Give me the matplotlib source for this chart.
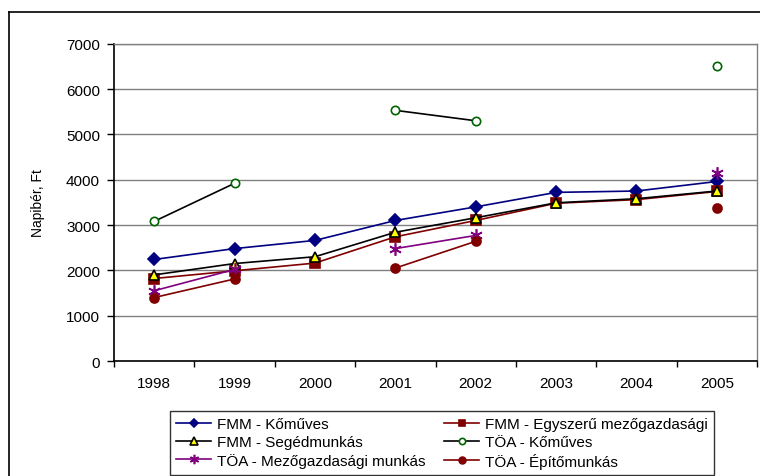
import matplotlib.pyplot as plt
import numpy as np
from matplotlib.lines import Line2D

plt.rcParams['font.family'] = ['Liberation Sans', 'DejaVu Sans']

years = ["1998", "1999", "2000", "2001", "2002", "2003", "2004", "2005"]
nan = np.nan

fmm_komuves = [2240, 2480, 2660, 3100, 3400, 3720, 3750, 3960]
fmm_egyszeru = [1820, 1990, 2160, 2740, 3100, 3480, 3560, 3740]
fmm_segedmunkas = [1900, 2150, 2300, 2840, 3160, 3490, 3580, 3750]
toa_komuves = [3080, 3920, nan, 5530, 5300, nan, nan, 6510]
toa_mezogazd = [1550, 2020, nan, 2480, 2770, nan, nan, 4140]
toa_epito = [1400, 1810, nan, 2050, 2640, nan, nan, 3380]

W, H = 760, 477
fig = plt.figure(figsize=(W / 100, H / 100), dpi=100)
ax = fig.add_axes([114 / W, 1 - 362 / H, (757 - 114) / W, (362 - 44.7) / H])

x = np.arange(len(years))

# series: values, label, line colour, marker, face, edge, size
series = [
    (fmm_komuves, "FMM - Kőműves", "#000080", "D", "#000080", "#000080", 6),
    (fmm_egyszeru, "FMM - Egyszerű mezőgazdasági", "#800000", "s", "#800000", "#800000", 6.5),
    (fmm_segedmunkas, "FMM - Segédmunkás", "#000000", "^", "#ffff00", "#000000", 7.5),
    (toa_komuves, "TÖA - Kőműves", "#000000", "o", "white", "#006400", 6),
    (toa_mezogazd, "TÖA - Mezőgazdasági munkás", "#800080", (6, 2, 0), "#800080", "#800080", 9),
    (toa_epito, "TÖA - Építőmunkás", "#800000", "o", "#800000", "#800000", 6.5),
]

handles = {}
for vals, label, col, mk, fc, ec, ms in series:
    (h,) = ax.plot(x, vals, color=col, lw=1.2, marker=mk, markersize=ms,
                   markerfacecolor=fc, markeredgecolor=ec, markeredgewidth=1.2,
                   label=label, zorder=3)
    handles[label] = h

ax.set_xlim(-0.5, len(years) - 0.5)
ax.set_ylim(0, 7000)
ax.set_yticks(np.arange(0, 7001, 1000))
ax.yaxis.grid(True, color="#808080", lw=1)
ax.set_axisbelow(True)

ax.set_xticks(np.arange(-0.5, len(years), 1))
ax.set_xticklabels([])
ax.set_xticks(x, minor=True)
ax.set_xticklabels(years, minor=True)
ax.tick_params(axis="x", which="major", direction="out", length=4, width=1)
ax.tick_params(axis="x", which="minor", length=0, pad=11, labelsize=11)
ax.tick_params(axis="y", direction="out", length=5, width=1, pad=5, labelsize=11)

for s in ["left", "bottom"]:
    ax.spines[s].set_color("#000000")
    ax.spines[s].set_linewidth(1.2)
for s in ["right", "top"]:
    ax.spines[s].set_color("#808080")
    ax.spines[s].set_linewidth(1)

ax.set_ylabel("Napibér, Ft", fontsize=10, labelpad=15)

order = ["FMM - Kőműves", "FMM - Segédmunkás", "TÖA - Mezőgazdasági munkás",
         "FMM - Egyszerű mezőgazdasági", "TÖA - Kőműves", "TÖA - Építőmunkás"]
leg = fig.legend([handles[k] for k in order], order, ncol=2, fontsize=11,
                 loc="upper left", bbox_to_anchor=(170 / W, 1 - 412 / H),
                 frameon=True, fancybox=False, edgecolor="#000000",
                 handlelength=2.3, handletextpad=0.4, columnspacing=1.2,
                 labelspacing=0.25, borderpad=0.4, borderaxespad=0,
                 markerscale=0.75)
leg.get_frame().set_linewidth(1)

# outer chart frame
fig.add_artist(Line2D([9 / W, 9 / W], [0, 1 - 13 / H], color="black", lw=1.2))
fig.add_artist(Line2D([9 / W, 1], [1 - 13 / H, 1 - 13 / H], color="black", lw=1.2))

fig.savefig("out.png", dpi=100)
